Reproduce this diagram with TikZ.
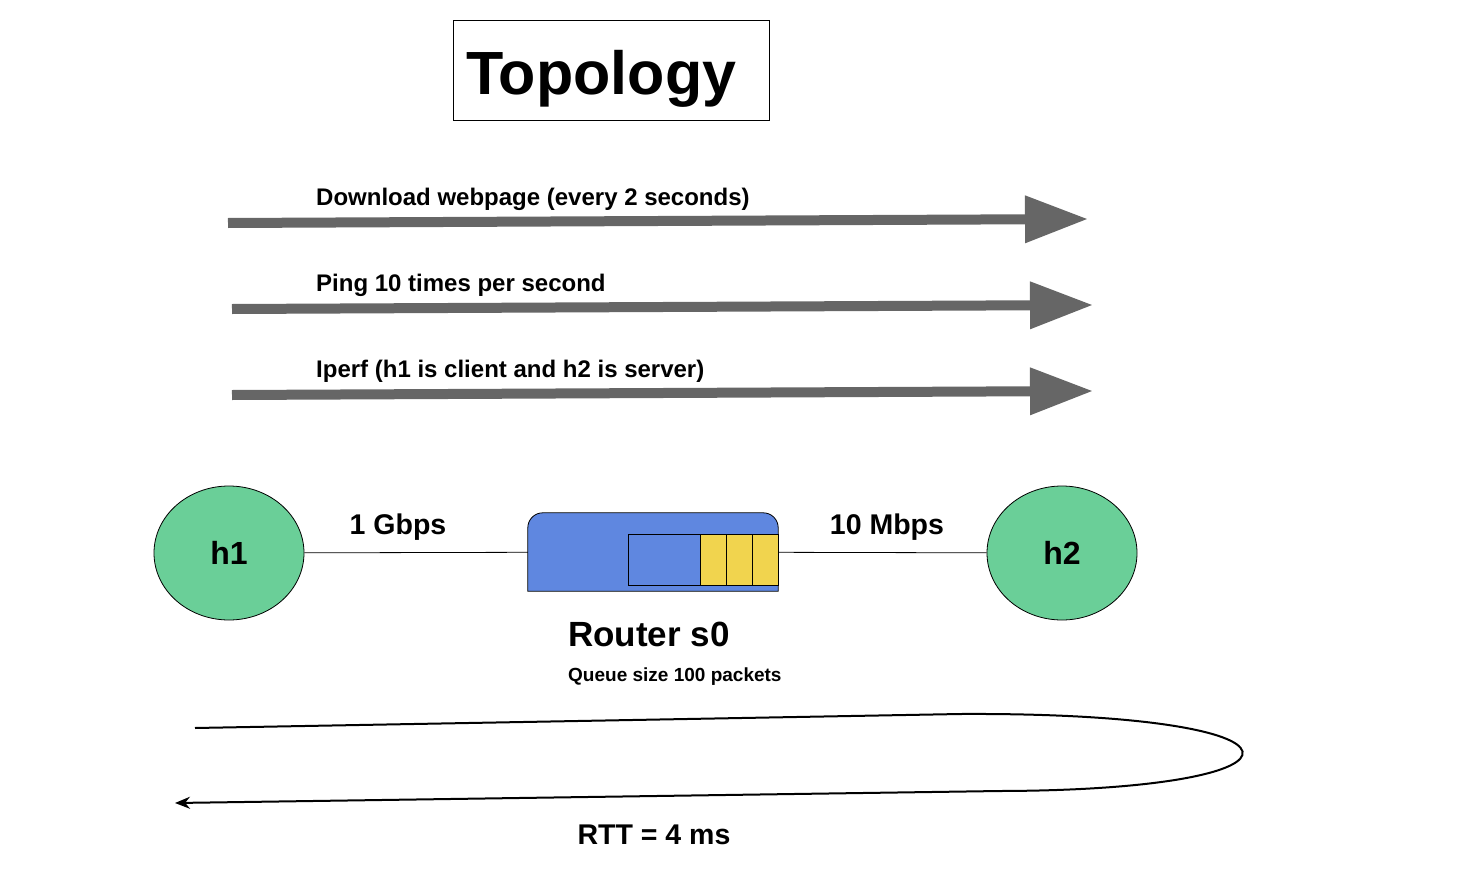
\documentclass[tikz,border=0pt]{standalone}
\usepackage{fontspec}
\setmainfont{Liberation Sans}
\usetikzlibrary{arrows.meta,shapes.geometric}

\definecolor{hostgreen}{HTML}{6ACF98}
\definecolor{routerblue}{HTML}{5F87E0}
\definecolor{queueyellow}{HTML}{F1D44E}
\definecolor{flowgrey}{HTML}{666666}

\tikzset{
  host/.style={ellipse,draw,fill=hostgreen,line width=0.8pt,minimum width=150pt,minimum height=134pt,font=\fontsize{32}{36}\selectfont\bfseries},
  flow/.style={draw=flowgrey,line width=10pt,-{Triangle[length=63pt,width=45pt]}},
  flowlabel/.style={anchor=base west,inner sep=0pt,font=\fontsize{24}{28}\selectfont\bfseries},
  ratelabel/.style={anchor=base,inner sep=0pt,font=\fontsize{28.5}{32}\selectfont\bfseries},
  cell/.style={draw,line width=0.8pt,fill=queueyellow,minimum width=26pt,minimum height=51pt,inner sep=0pt}
}

\begin{document}
\begin{tikzpicture}[x=1pt,y=-1pt]
\useasboundingbox (0,0) rectangle (1458,888);

% title
\node[draw,line width=0.8pt,minimum width=316pt,minimum height=100pt] (titlebox) at (611,70) {};
\node[anchor=base west,inner sep=0pt,font=\fontsize{61}{66}\selectfont\bfseries] (title) at (466,95) {Topology};

% traffic
\coordinate (dl1) at (228,223);  \coordinate (dl2) at (1088,219);
\coordinate (pg1) at (232,309);  \coordinate (pg2) at (1093,305);
\coordinate (ip1) at (232,395);  \coordinate (ip2) at (1093,391);
\draw[flow] (dl1) -- (dl2);
\draw[flow] (pg1) -- (pg2);
\draw[flow] (ip1) -- (ip2);
\node[flowlabel] (dltext) at (316,205) {Download webpage (every 2 seconds)};
\node[flowlabel] (pgtext) at (316,291) {Ping 10 times per second};
\node[flowlabel] (iptext) at (316,377) {Iperf (h1 is client and h2 is server)};

% hosts and router
\node[host] (h1) at (229,553) {h1};
\node[host] (h2) at (1062,553) {h2};
\node[minimum width=250pt,minimum height=78pt,inner sep=0pt] (s0) at (653,552) {};
\draw[fill=routerblue,line width=0.8pt] (s0.south west) [rounded corners=15pt] -- (s0.north west) -- (s0.north east) [sharp corners] -- (s0.south east) -- cycle;
\node[draw,line width=0.8pt,fill=routerblue,minimum width=72pt,minimum height=51pt,inner sep=0pt] (buf) at (664,559.5) {};
\foreach \i/\x in {1/713,2/739,3/765}
  \node[cell] (pkt\i) at (\x,559.5) {};

\draw[line width=0.8pt] (h1) -- (s0);
\draw[line width=0.8pt] (s0) -- (h2);
\node[ratelabel] (fast) at (398,534) {1 Gbps};
\node[ratelabel] (slow) at (887,534) {10 Mbps};
\node[anchor=base west,inner sep=0pt,font=\fontsize{35}{40}\selectfont\bfseries] (rname) at (568,646) {Router s0};
\node[anchor=base west,inner sep=0pt,font=\fontsize{19}{22}\selectfont\bfseries] (qsize) at (568,681) {Queue size 100 packets};

% round trip
\coordinate (go) at (195,728);
\coordinate (back) at (175,803);
\draw[line width=2pt,-{Stealth[length=15pt,width=12pt]}] (go) -- (960,714) .. controls (1330,712) and (1330,790) .. (1000,791) -- (back);
\node[ratelabel] (rtt) at (654,844) {RTT = 4 ms};
\end{tikzpicture}
\end{document}
